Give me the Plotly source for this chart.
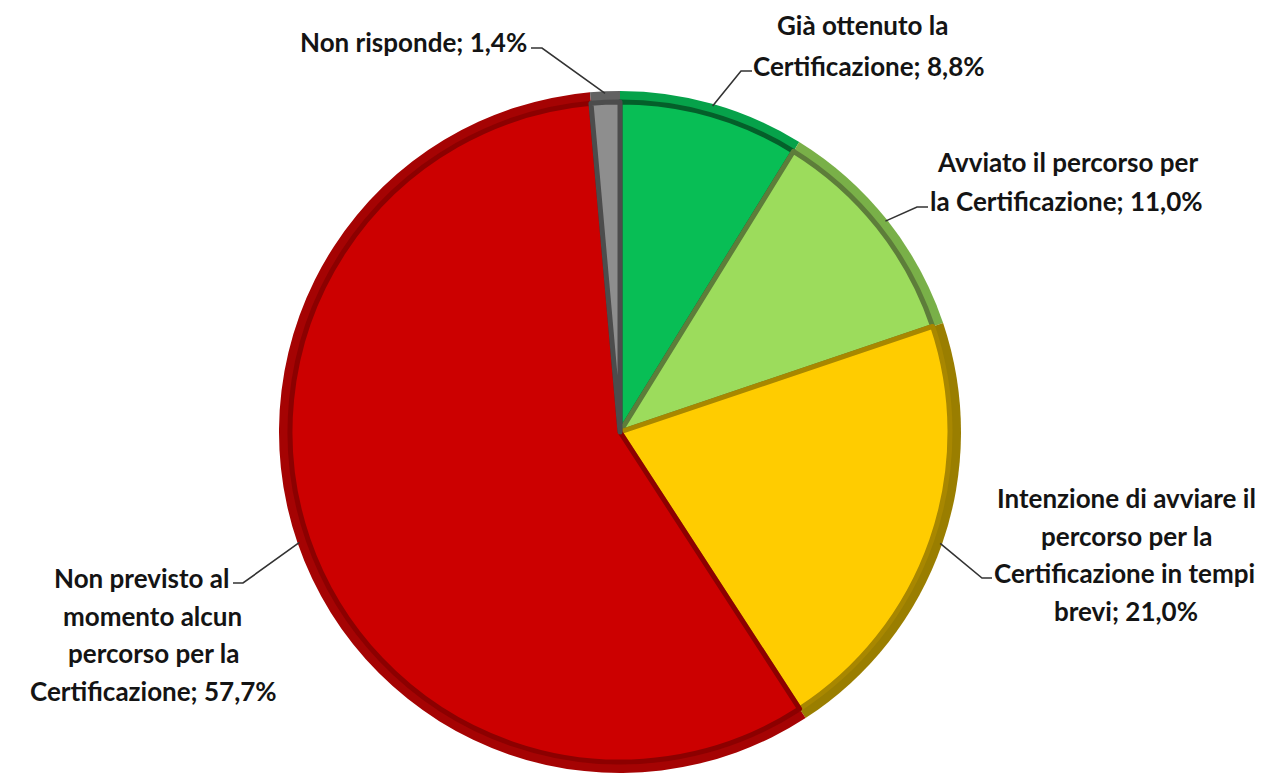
import math
import plotly.graph_objects as go

# Certification status survey – share of respondents (%)
categories = [
    "Già ottenuto la Certificazione",
    "Avviato il percorso per la Certificazione",
    "Intenzione di avviare il percorso per la Certificazione in tempi brevi",
    "Non previsto al momento alcun percorso per la Certificazione",
    "Non risponde",
]
values = [8.8, 11.0, 21.0, 57.7, 1.4]

# Label text lines (the value is appended to the last line)
label_lines = [
    ["Già ottenuto la", "Certificazione;"],
    ["Avviato il percorso per", "la Certificazione;"],
    ["Intenzione di avviare il", "percorso per la", "Certificazione in tempi", "brevi;"],
    ["Non previsto al", "momento alcun", "percorso per la", "Certificazione;"],
    ["Non risponde;"],
]

face_colors = ["#08BE55", "#9CDC5C", "#FFCC00", "#CC0000", "#8E8E8E"]
rim_colors = ["#06A24A", "#79B048", "#9A7E00", "#A50303", "#626262"]
edge_colors = ["#045F2A", "#5D7D3A", "#A88700", "#8C0000", "#4C4C4C"]

W, H = 1263, 782
CX, CY, R = 620, 432, 341
RIM = 11

# label placement: centre x of each line (px), first line y, line spacing,
# leader start and elbow (px)
label_pos = [
    ([862, 869], 25, 41, (752, 71), (741, 71)),
    ([1067, 1066], 162, 39, (928, 207), (917, 207)),
    ([1126, 1126, 1124, 1126], 498, 37.5, (992, 578), (982, 578)),
    ([141, 152, 153, 153], 578, 37.7, (233, 583), (243, 583)),
    ([413], 42, 0, (531, 48), (542, 48)),
]


def fmt_pct(v):
    return f"{v:.1f}".replace(".", ",") + "%"


def px_to_paper(x, y):
    return x / W, 1 - y / H


def domain_for(radius):
    x0, y1 = px_to_paper(CX - radius, CY - radius)
    x1, y0 = px_to_paper(CX + radius, CY + radius)
    return dict(x=[x0, x1], y=[y0, y1])


fig = go.Figure()

# outer bevel ring
fig.add_trace(go.Pie(
    labels=categories, values=values, sort=False, direction="clockwise",
    rotation=0, domain=domain_for(R), textinfo="none", hoverinfo="label+percent",
    marker=dict(colors=rim_colors, line=dict(width=0)), showlegend=False,
))
# slice faces with darker bevelled edges
fig.add_trace(go.Pie(
    labels=categories, values=values, sort=False, direction="clockwise",
    rotation=0, domain=domain_for(R - RIM), textinfo="none", hoverinfo="skip",
    marker=dict(colors=face_colors, line=dict(color=edge_colors, width=5)),
    showlegend=False,
))

annotations = []
shapes = []
total = sum(values)
cum = 0.0
for i, v in enumerate(values):
    mid = (cum + v / 2) / total * 2 * math.pi
    cum += v
    ax = CX + (R - 2) * math.sin(mid)
    ay = CY - (R - 2) * math.cos(mid)

    xs, y0, dy, start, elbow = label_pos[i]
    lines = list(label_lines[i])
    lines[-1] = lines[-1] + " " + fmt_pct(v)
    for k, line in enumerate(lines):
        x, y = px_to_paper(xs[k], y0 + k * dy)
        annotations.append(dict(
            x=x, y=y, xref="paper", yref="paper", text=line, showarrow=False,
            xanchor="center", yanchor="middle",
            font=dict(family="Lato", size=26, color="#141414", weight="bold"),
        ))

    p = [px_to_paper(*start), px_to_paper(*elbow), px_to_paper(ax, ay)]
    path = "M {} {} L {} {} L {} {}".format(p[0][0], p[0][1], p[1][0], p[1][1], p[2][0], p[2][1])
    shapes.append(dict(type="path", xref="paper", yref="paper", path=path,
                       line=dict(color="#333333", width=1.6)))

fig.update_layout(
    width=W, height=H,
    margin=dict(l=0, r=0, t=0, b=0),
    paper_bgcolor="white", plot_bgcolor="white",
    annotations=annotations, shapes=shapes,
)

fig.write_html("out.html")
